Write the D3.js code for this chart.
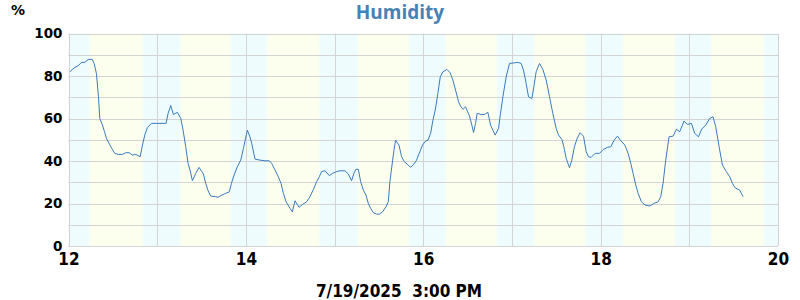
<!DOCTYPE html>
<html>
<head>
<meta charset="utf-8">
<script src="https://cdn.jsdelivr.net/npm/d3@7"></script>
<style>
  body { margin: 0; background: #fff; }
  svg { display: block; }
</style>
</head>
<body>
<div id="plot"></div>
<script>
// time in days of month, humidity in %
var days = [12.019, 12.045, 12.083, 12.109, 12.146, 12.184, 12.222, 12.267, 12.289, 12.315,
    12.338, 12.353, 12.383, 12.406, 12.428, 12.458, 12.488, 12.522, 12.560, 12.608,
    12.646, 12.684, 12.721, 12.759, 12.808, 12.834, 12.860, 12.890, 12.935, 13.003,
    13.100, 13.123, 13.153, 13.183, 13.228, 13.266, 13.292, 13.322, 13.348, 13.371,
    13.397, 13.435, 13.472, 13.521, 13.547, 13.574, 13.604, 13.660, 13.686, 13.716,
    13.773, 13.814, 13.837, 13.867, 13.904, 13.942, 13.972, 14.017, 14.043, 14.066,
    14.103, 14.160, 14.216, 14.265, 14.291, 14.329, 14.366, 14.396, 14.423, 14.453,
    14.498, 14.524, 14.554, 14.599, 14.640, 14.685, 14.723, 14.761, 14.798, 14.828,
    14.854, 14.892, 14.941, 14.978, 15.023, 15.061, 15.117, 15.155, 15.192, 15.218,
    15.241, 15.268, 15.294, 15.324, 15.354, 15.380, 15.407, 15.437, 15.474, 15.504,
    15.542, 15.580, 15.606, 15.624, 15.655, 15.670, 15.688, 15.726, 15.756, 15.786,
    15.831, 15.857, 15.895, 15.925, 15.962, 15.992, 16.026, 16.053, 16.083, 16.109,
    16.135, 16.165, 16.192, 16.222, 16.267, 16.304, 16.334, 16.364, 16.398, 16.421,
    16.447, 16.477, 16.522, 16.548, 16.567, 16.590, 16.608, 16.653, 16.691, 16.729,
    16.759, 16.785, 16.811, 16.849, 16.871, 16.898, 16.935, 16.973, 17.029, 17.067,
    17.104, 17.130, 17.153, 17.187, 17.225, 17.247, 17.273, 17.311, 17.349, 17.386,
    17.424, 17.461, 17.499, 17.525, 17.563, 17.585, 17.612, 17.649, 17.675, 17.705,
    17.735, 17.769, 17.807, 17.837, 17.863, 17.893, 17.938, 17.987, 18.032, 18.077,
    18.115, 18.152, 18.190, 18.228, 18.273, 18.310, 18.340, 18.366, 18.396, 18.423,
    18.460, 18.501, 18.554, 18.603, 18.648, 18.678, 18.704, 18.734, 18.772, 18.817,
    18.854, 18.892, 18.941, 18.979, 19.024, 19.061, 19.103, 19.140, 19.185, 19.230,
    19.268, 19.298, 19.336, 19.373, 19.418, 19.456, 19.486, 19.516, 19.568, 19.606];

var humidity = [82.0, 83.2, 84.3, 84.8, 86.4, 86.4, 87.8, 87.8, 85.9, 81.2,
    70.2, 60.0, 56.9, 53.8, 50.6, 48.3, 45.9, 43.6, 43.1, 43.1,
    43.9, 43.9, 42.8, 43.1, 42.0, 47.5, 52.2, 55.8, 57.7, 57.7,
    57.7, 62.4, 66.1, 61.9, 62.9, 60.0, 54.5, 46.7, 38.9, 35.7,
    30.7, 34.2, 37.0, 33.9, 29.5, 26.0, 23.5, 23.2, 22.9, 23.7,
    24.8, 25.5, 29.5, 33.4, 37.3, 40.4, 45.9, 54.5, 51.7, 48.3,
    40.9, 40.4, 40.1, 40.1, 38.9, 35.7, 32.6, 29.5, 24.8, 20.8,
    17.7, 16.1, 21.3, 18.2, 19.6, 20.8, 23.2, 26.6, 30.3, 32.6,
    35.0, 35.4, 33.1, 34.2, 35.0, 35.4, 35.4, 33.9, 30.7, 34.2,
    36.1, 36.1, 30.3, 26.3, 24.0, 20.1, 17.7, 15.7, 15.0, 15.0,
    16.1, 18.5, 20.8, 30.3, 40.4, 45.1, 49.8, 47.5, 42.0, 39.7,
    38.1, 37.0, 38.6, 40.4, 44.4, 47.5, 49.4, 49.8, 53.0, 59.2,
    63.9, 71.8, 79.6, 82.0, 83.1, 81.5, 78.1, 73.4, 67.9, 65.8,
    64.3, 65.5, 61.1, 56.9, 53.4, 57.7, 62.4, 61.9, 61.9, 62.9,
    56.9, 54.5, 52.2, 55.3, 62.4, 70.2, 79.6, 85.9, 86.2, 86.4,
    85.9, 82.8, 78.1, 70.2, 69.4, 74.9, 82.0, 85.9, 83.1, 78.1,
    70.2, 62.4, 55.3, 52.2, 50.2, 46.7, 41.2, 36.8, 40.4, 46.7,
    50.6, 53.3, 51.7, 44.4, 42.0, 41.7, 43.6, 43.6, 45.5, 46.4,
    46.7, 49.8, 51.7, 49.5, 47.5, 43.6, 38.9, 34.2, 28.7, 24.8,
    20.8, 19.3, 18.8, 20.1, 20.8, 23.2, 29.5, 40.4, 51.4, 51.7,
    54.9, 53.8, 58.8, 57.2, 57.7, 53.0, 51.4, 55.0, 56.9, 60.0,
    60.8, 56.1, 46.7, 38.1, 35.0, 32.6, 29.5, 27.4, 26.3, 23.2];

// daylight periods (day of month)
var sunrise = [12.24, 13.26, 14.24, 15.26, 16.25, 17.25, 18.25, 19.25];
var sunset  = [12.84, 13.83, 14.83, 15.84, 16.83, 17.83, 18.84, 19.84];

var xTicks = [12, 14, 16, 18, 20];
var yTicks = [0, 20, 40, 60, 80, 100];
var title = "Humidity";
var unit = "%";
var timestamp = "7/19/2025  3:00 PM";

var width = 800, height = 300;
var plotLeft = 68.5, plotRight = 778, plotTop = 33.5, plotBottom = 246;

var svg = d3.select("#plot").append("svg")
    .attr("width", width)
    .attr("height", height);

var x = d3.scaleLinear().domain([12, 20]).range([plotLeft, plotRight]);
var y = d3.scaleLinear().domain([0, 100]).range([plotBottom, plotTop]);

// night / day background as one gradient
var grad = svg.append("defs").append("linearGradient")
    .attr("id", "bg")
    .attr("gradientUnits", "userSpaceOnUse")
    .attr("x1", x(12)).attr("x2", x(20))
    .attr("y1", 0).attr("y2", 0);

var night = "#eefcfe", day = "#fdffee";
var edge = 0.02;
function off(d) { return (x(d) - x(12)) / (x(20) - x(12)); }
grad.append("stop").attr("offset", 0).attr("stop-color", night);
sunrise.forEach(function(s, i) {
    grad.append("stop").attr("offset", off(s - edge)).attr("stop-color", night);
    grad.append("stop").attr("offset", off(s + edge)).attr("stop-color", day);
    grad.append("stop").attr("offset", off(sunset[i] - edge)).attr("stop-color", day);
    grad.append("stop").attr("offset", off(sunset[i] + edge)).attr("stop-color", night);
});
grad.append("stop").attr("offset", 1).attr("stop-color", night);

svg.append("rect")
    .attr("x", plotLeft).attr("y", plotTop)
    .attr("width", plotRight - plotLeft).attr("height", plotBottom - plotTop)
    .attr("fill", "url(#bg)");

// grid
var grid = svg.append("g").attr("stroke", "#d4d4d4").attr("stroke-width", 1);
grid.selectAll(".h")
    .data(d3.range(0, 101, 10)).enter()
    .append("line")
    .attr("x1", plotLeft).attr("x2", plotRight)
    .attr("y1", function(d) { return Math.round(y(d)) + 0.5; })
    .attr("y2", function(d) { return Math.round(y(d)) + 0.5; });
grid.selectAll(".v")
    .data(d3.range(12, 21, 1)).enter()
    .append("line")
    .attr("y1", plotTop).attr("y2", plotBottom)
    .attr("x1", function(d) { return Math.round(x(d)) + 0.5; })
    .attr("x2", function(d) { return Math.round(x(d)) + 0.5; });

// humidity line
var pts = days.map(function(d, i) { return [d, humidity[i]]; });
var line = d3.line()
    .x(function(d) { return x(d[0]); })
    .y(function(d) { return y(d[1]); });

svg.append("path")
    .datum(pts)
    .attr("fill", "none")
    .attr("stroke", "#3a7bbd")
    .attr("stroke-width", 1)
    .attr("d", line);

// axes
var xAxis = d3.axisBottom(x).tickValues(xTicks).tickSize(0).tickPadding(7).tickFormat(d3.format("d"));
var yAxis = d3.axisLeft(y).tickValues(yTicks).tickSize(0).tickPadding(6).tickFormat(d3.format("d"));

var gx = svg.append("g")
    .attr("transform", "translate(0," + plotBottom + ")")
    .call(xAxis);
gx.select(".domain").remove();
gx.selectAll("text")
    .attr("fill", "#000")
    .style("font-family", "'DejaVu Sans Condensed', 'DejaVu Sans'")
    .style("font-stretch", "condensed")
    .style("font-weight", "bold")
    .style("font-size", "17px");

var gy = svg.append("g")
    .attr("transform", "translate(" + plotLeft + ",0)")
    .call(yAxis);
gy.select(".domain").remove();
gy.selectAll("text")
    .attr("fill", "#000")
    .style("font-family", "'DejaVu Sans'")
    .style("font-weight", "bold")
    .style("font-size", "13.5px");

// title, unit, timestamp
svg.append("text")
    .attr("x", 400).attr("y", 19)
    .attr("text-anchor", "middle")
    .attr("fill", "#4682b4")
    .style("font-family", "'Open Sans'")
    .style("font-weight", "bold")
    .style("font-size", "19px")
    .text(title);

svg.append("text")
    .attr("x", 11).attr("y", 15)
    .attr("fill", "#000")
    .style("font-family", "'DejaVu Sans'")
    .style("font-weight", "bold")
    .style("font-size", "14px")
    .text(unit);

svg.append("text")
    .attr("x", 399).attr("y", 297)
    .attr("text-anchor", "middle")
    .attr("fill", "#000")
    .attr("xml:space", "preserve")
    .style("white-space", "pre")
    .style("font-family", "'DejaVu Sans Condensed', 'DejaVu Sans'")
    .style("font-stretch", "condensed")
    .style("font-weight", "bold")
    .style("font-size", "17px")
    .text(timestamp);
</script>
</body>
</html>
